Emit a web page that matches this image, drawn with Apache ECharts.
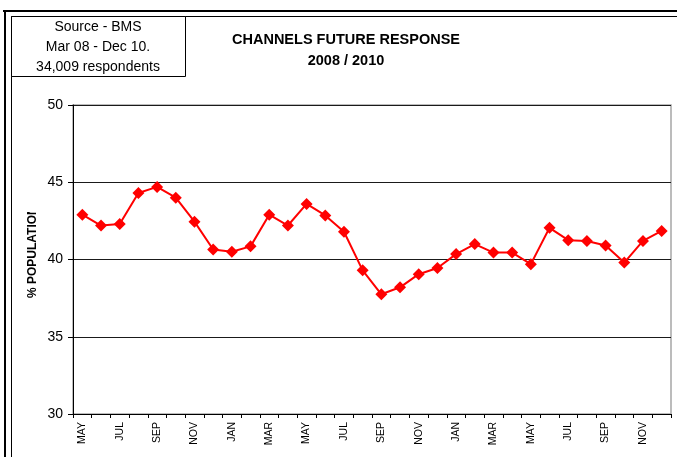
<!DOCTYPE html>
<html>
<head>
<meta charset="utf-8" />
<title>Channels Future Response</title>
<script src="https://cdn.jsdelivr.net/npm/echarts@6/dist/echarts.min.js"></script>
<style>
  html,
  body {
    margin: 0;
    padding: 0;
    background: #fff;
  }
  #el {
    width: 677px;
    height: 457px;
  }
</style>
</head>
<body>
<div id="el"></div>
<script>
// May 08 -> Dec 10, one value per month
const months = [
  "MAY", "JUN", "JUL", "AUG", "SEP", "OCT", "NOV", "DEC",
  "JAN", "FEB", "MAR", "APR", "MAY", "JUN", "JUL", "AUG", "SEP", "OCT", "NOV", "DEC",
  "JAN", "FEB", "MAR", "APR", "MAY", "JUN", "JUL", "AUG", "SEP", "OCT", "NOV", "DEC"
];
const popValues = [
  42.9, 42.2, 42.3, 44.3, 44.7, 44.0, 42.45, 40.65,
  40.5, 40.85, 42.9, 42.2, 43.6, 42.85, 41.8, 39.3, 37.75, 38.2, 39.05, 39.45,
  40.35, 41.0, 40.45, 40.45, 39.7, 42.05, 41.25, 41.2, 40.9, 39.8, 41.2, 41.85
];
const sourceLines = ["Source - BMS", "Mar 08 - Dec 10.", "34,009 respondents"];
const titleLines = ["CHANNELS FUTURE RESPONSE", "2008 / 2010"];
const yTitle = "% POPULATION";

const font = "'Liberation Sans', Arial, sans-serif";

let chart = echarts.init(document.getElementById("el"));

let option = {
  animation: false,
  textStyle: { fontFamily: font },
  grid: {
    left: 73,
    right: 6,
    top: 105,
    bottom: 43,
    show: true,
    borderColor: "#a6a6a6",
    borderWidth: 1.5
  },
  xAxis: {
    type: "category",
    data: months,
    boundaryGap: true,
    axisLine: { lineStyle: { color: "#000", width: 1 } },
    axisTick: { show: true, interval: 0, length: 4, lineStyle: { color: "#000" } },
    axisLabel: {
      interval: 1,
      rotate: 90,
      margin: 8,
      color: "#000",
      fontSize: 10.5,
      fontFamily: font
    },
    splitLine: { show: false }
  },
  yAxis: {
    type: "value",
    min: 30,
    max: 50,
    interval: 5,
    axisLine: { show: true, lineStyle: { color: "#000", width: 1 } },
    axisTick: { show: true, length: 5, lineStyle: { color: "#000" } },
    axisLabel: { margin: 10, color: "#000", fontSize: 14, fontFamily: font },
    splitLine: { show: true, lineStyle: { color: "#1a1a1a", width: 1 } }
  },
  series: [
    {
      type: "line",
      data: popValues,
      symbol: "diamond",
      symbolSize: 12,
      itemStyle: { color: "#ff0000" },
      lineStyle: { color: "#ff0000", width: 2 }
    }
  ],
  graphic: [
    // outer double frame
    { type: "line", shape: { x1: 3, y1: 11, x2: 677, y2: 11 }, style: { stroke: "#000", lineWidth: 2 } },
    { type: "line", shape: { x1: 5, y1: 10, x2: 5, y2: 457 }, style: { stroke: "#000", lineWidth: 2 } },
    { type: "line", shape: { x1: 11, y1: 16.5, x2: 677, y2: 16.5 }, style: { stroke: "#000", lineWidth: 1 } },
    { type: "line", shape: { x1: 11.5, y1: 16, x2: 11.5, y2: 457 }, style: { stroke: "#000", lineWidth: 1 } },
    // source box
    {
      type: "rect",
      shape: { x: 11.5, y: 16.5, width: 174, height: 60 },
      style: { fill: "#fff", stroke: "#000", lineWidth: 1 }
    },
    {
      type: "text",
      x: 98,
      y: 27,
      style: { text: sourceLines[0], font: "14px " + font, fill: "#000", textAlign: "center", textVerticalAlign: "middle" }
    },
    {
      type: "text",
      x: 98,
      y: 47,
      style: { text: sourceLines[1], font: "14px " + font, fill: "#000", textAlign: "center", textVerticalAlign: "middle" }
    },
    {
      type: "text",
      x: 98,
      y: 67,
      style: { text: sourceLines[2], font: "14px " + font, fill: "#000", textAlign: "center", textVerticalAlign: "middle" }
    },
    // title
    {
      type: "text",
      x: 346,
      y: 40,
      style: { text: titleLines[0], font: "bold 14.5px " + font, fill: "#000", textAlign: "center", textVerticalAlign: "middle" }
    },
    {
      type: "text",
      x: 346,
      y: 61,
      style: { text: titleLines[1], font: "bold 14.5px " + font, fill: "#000", textAlign: "center", textVerticalAlign: "middle" }
    },
    // y axis title, top is clipped in the original
    {
      type: "text",
      x: 33,
      y: 298,
      rotation: Math.PI / 2,
      style: { text: yTitle, font: "bold 12px " + font, fill: "#000", textAlign: "left", textVerticalAlign: "middle" }
    },
    {
      type: "rect",
      shape: { x: 24, y: 190, width: 18, height: 22 },
      style: { fill: "#fff" }
    }
  ]
};

chart.setOption(option);
</script>
</body>
</html>
